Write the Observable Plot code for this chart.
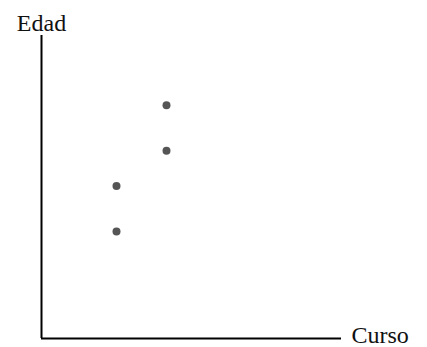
<!DOCTYPE html>
<html>
<head>
<meta charset="utf-8">
<script src="https://cdn.jsdelivr.net/npm/d3@7"></script>
<script src="https://cdn.jsdelivr.net/npm/@observablehq/plot@0.6"></script>
<style>
  html, body { margin: 0; padding: 0; background: #fff; }
  #chart { width: 427px; height: 347px; }
  #chart svg text { font-family: "Liberation Serif", "Times New Roman", serif; }
</style>
</head>
<body>
<div id="chart"></div>
<script>
const curso = [3, 3, 5, 5];
const edad = [10.6, 15.1, 18.6, 23.1];
const xLabel = "Curso";
const yLabel = "Edad";

const data = curso.map((c, i) => ({curso: c, edad: edad[i]}));

const chart = Plot.plot({
  width: 427,
  height: 347,
  marginLeft: 41,
  marginRight: 86,
  marginTop: 35,
  marginBottom: 9,
  style: {background: "#fff"},
  x: {domain: [0, 12], axis: null},
  y: {domain: [0, 30], axis: null},
  marks: [
    Plot.ruleX([0], {stroke: "#000", strokeWidth: 2}),
    Plot.ruleY([0], {stroke: "#000", strokeWidth: 2}),
    Plot.dot(data, {x: "curso", y: "edad", r: 4, fill: "#555", stroke: null}),
    Plot.text([yLabel], {frameAnchor: "top-left", text: d => d, textAnchor: "middle", lineAnchor: "bottom", dy: -5, fontSize: 24, fontFamily: "Liberation Serif", fill: "#111"}),
    Plot.text([xLabel], {frameAnchor: "bottom-right", text: d => d, textAnchor: "start", lineAnchor: "middle", dx: 10, dy: -3, fontSize: 24, fontFamily: "Liberation Serif", fill: "#111"})
  ]
});
document.getElementById("chart").appendChild(chart);
</script>
</body>
</html>
